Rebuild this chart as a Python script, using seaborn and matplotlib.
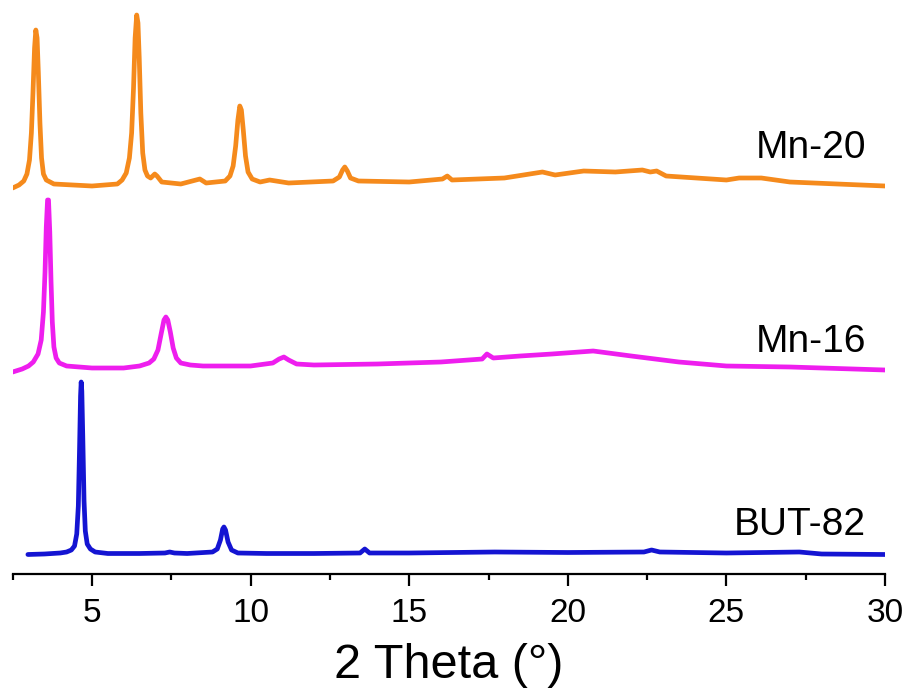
import matplotlib
matplotlib.use("Agg")
import matplotlib.pyplot as plt
from matplotlib.ticker import MultipleLocator
import seaborn as sns
import pandas as pd

# ---- data (relative intensity) ----
but82_x = [2.98, 3.5, 4.0, 4.2, 4.35, 4.45, 4.52, 4.57, 4.61, 4.64, 4.66, 4.68, 4.71, 4.75,
           4.79, 4.85, 4.95, 5.1, 5.5, 6.5, 7.3, 7.45, 7.6, 8.0, 8.8, 8.95, 9.05, 9.12,
           9.16, 9.21, 9.29, 9.4, 9.6, 10.5, 12.0, 13.45, 13.6, 13.75, 15.0, 17.7, 20.0,
           22.4, 22.64, 22.9, 25.0, 27.3, 28.0, 30.0]
but82_y = [1.5, 2, 3, 4, 6, 10, 22, 50, 110, 160, 174, 165, 120, 55,
           25, 12, 7, 4, 2.5, 2.5, 3, 4, 3, 2.5, 4, 7, 16, 27,
           29, 26, 14, 6, 3, 2.5, 2.5, 3, 7, 3, 3, 4, 3.5,
           4, 6, 4, 3, 4, 2, 1.5]

mn16_x = [2.5, 2.8, 3.0, 3.15, 3.3, 3.4, 3.47, 3.52, 3.56, 3.6, 3.63, 3.67, 3.71, 3.75,
          3.8, 3.87, 3.97, 4.2, 5.0, 6.0, 6.5, 6.8, 6.95, 7.08, 7.18, 7.27, 7.33, 7.39,
          7.47, 7.56, 7.66, 7.8, 8.1, 8.5, 10.0, 10.7, 10.9, 11.05, 11.2, 11.45, 12.0,
          14.0, 16.0, 17.3, 17.45, 17.65, 18.5, 19.5, 20.8, 22.0, 23.5, 25.0, 27.0, 30.0]
mn16_y = [0, 3, 6, 10, 18, 32, 60, 100, 145, 172, 172, 140, 90, 50,
          25, 14, 9, 6, 4, 4, 6, 9, 13, 22, 38, 52, 55, 52,
          40, 24, 14, 9, 7, 6, 6, 9, 13, 15, 12, 8, 7,
          8, 10, 13, 18, 14, 16, 18, 21, 16, 10, 6, 5, 2]

mn20_x = [2.5, 2.7, 2.85, 2.95, 3.03, 3.09, 3.14, 3.19, 3.23, 3.27, 3.31, 3.36, 3.41, 3.47,
          3.56, 3.8, 5.0, 5.8, 5.95, 6.08, 6.18, 6.25, 6.31, 6.36, 6.41, 6.45, 6.49, 6.54,
          6.6, 6.67, 6.75, 6.85, 6.98, 7.05, 7.2, 7.8, 8.4, 8.6, 9.2, 9.35, 9.45, 9.53,
          9.6, 9.66, 9.71, 9.77, 9.84, 9.92, 10.05, 10.3, 10.6, 11.2, 12.6, 12.8, 12.9,
          12.97, 13.05, 13.15, 13.4, 15.0, 16.05, 16.2, 16.35, 18.0, 19.2, 19.6, 20.5,
          21.5, 22.35, 22.6, 22.8, 23.1, 25.0, 25.4, 26.1, 27.0, 30.0]
mn20_y = [0, 3, 7, 14, 28, 55, 95, 140, 158, 150, 115, 65, 30, 14,
          8, 4, 2, 4, 8, 15, 30, 55, 100, 150, 173, 165, 130, 75,
          35, 18, 12, 10, 14, 12, 6, 4, 9, 5, 7, 12, 22, 42,
          68, 82, 78, 58, 32, 16, 9, 6, 8, 5, 7, 11, 18,
          21, 17, 10, 7, 6, 9, 12, 8, 10, 16, 13, 17,
          16, 18, 16, 17, 12, 8, 10, 10, 6, 2]

series_names = ["BUT-82", "Mn-16", "Mn-20"]
x_ticks = [5, 10, 15, 20, 25, 30]
x_label = "2 Theta (°)"

# ---- styling / layout ----
offsets = {"BUT-82": 132, "Mn-16": 316, "Mn-20": 500}
colors = {"BUT-82": "#1414D2", "Mn-16": "#EE1EEE", "Mn-20": "#F58A1C"}
label_y = {"BUT-82": 153, "Mn-16": 336, "Mn-20": 530}

frames = []
for name, xs, ys in zip(series_names, [but82_x, mn16_x, mn20_x], [but82_y, mn16_y, mn20_y]):
    frames.append(pd.DataFrame({"theta": xs, "intensity": ys, "sample": name}))
df = pd.concat(frames, ignore_index=True)
df["plot_y"] = df["intensity"] + df["sample"].map(offsets)

sns.set_theme(style="white")
plt.rcParams["font.family"] = ["Liberation Sans", "DejaVu Sans"]

fig = plt.figure(figsize=(9.11, 6.88), dpi=100)
ax = fig.add_axes([0.0139, 0.1657, 0.9576, 0.8343])

sns.lineplot(data=df, x="theta", y="plot_y", hue="sample", palette=colors,
             estimator=None, sort=False, linewidth=3.4, legend=False, ax=ax)

for name in series_names:
    ax.text(29.41, label_y[name], name, ha="right", va="baseline",
            fontsize=28, color="black")

ax.set_xlim(2.5, 30)
ax.set_ylim(114, 688)
ax.set_xticks(x_ticks)
ax.xaxis.set_minor_locator(MultipleLocator(2.5))
ax.set_yticks([])
ax.set_ylabel("")
ax.set_xlabel(x_label, fontsize=35, labelpad=10, color="black")
for s in ["top", "right", "left"]:
    ax.spines[s].set_visible(False)
ax.spines["bottom"].set_linewidth(1.6)
ax.spines["bottom"].set_color("black")
ax.tick_params(axis="x", which="major", direction="out", length=8.6, width=1.6,
               labelsize=24, pad=8.5, colors="black", bottom=True)
ax.tick_params(axis="x", which="minor", direction="out", length=4.3, width=1.6,
               colors="black", bottom=True)

fig.savefig("out.png", dpi=100)
